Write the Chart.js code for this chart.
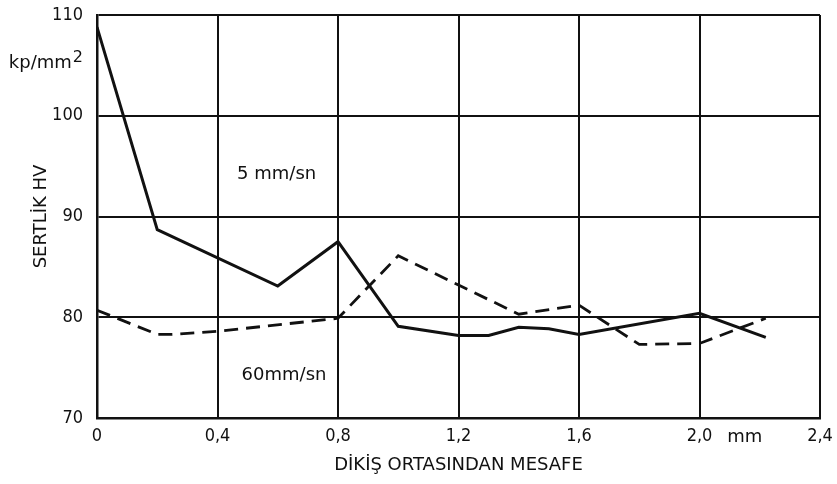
<!DOCTYPE html>
<html>
<head>
<meta charset="utf-8">
<script src="https://cdn.jsdelivr.net/npm/chart.js@4.4.0/dist/chart.umd.min.js"></script>
<style>
  html, body { margin: 0; padding: 0; background: #fff; }
  #box { width: 837px; height: 484px; }
</style>
</head>
<body>
<div id="box"><canvas id="myChart"></canvas></div>
<script>
// Datos
var xTicks = [0, 0.4, 0.8, 1.2, 1.6, 2.0, 2.4];
var yTicks = [70, 80, 90, 100, 110];

// 5 mm/sn (línea continua)
var xSolid = [0, 0.2, 0.6, 0.8, 1.0, 1.2, 1.3, 1.4, 1.5, 1.6, 2.0, 2.22];
var ySolid = [108.8, 88.7, 83.1, 87.5, 79.1, 78.2, 78.2, 79.0, 78.85, 78.3, 80.4, 78.0];

// 60 mm/sn (línea discontinua)
var xDashed = [0, 0.2, 0.25, 0.4, 0.8, 1.0, 1.2, 1.4, 1.6, 1.8, 2.0, 2.22];
var yDashed = [80.7, 78.3, 78.3, 78.6, 79.9, 86.1, 83.2, 80.3, 81.2, 77.3, 77.4, 79.9];

var fuenteNum = "'DejaVu Sans Condensed', 'DejaVu Sans', sans-serif";
var fuente = "'DejaVu Sans', sans-serif";

function puntos(xs, ys) {
    return xs.map(function (x, i) {
        return { x: x, y: ys[i] };
    });
}

function formatoX(v) {
    if (v === 0) return "0";
    return v.toFixed(1).replace(".", ",");
}

// Textos sueltos dentro y alrededor del gráfico
var textosPlugin = {
    id: "textos",
    afterDraw: function (chart) {
        var c = chart.ctx;
        var xs = chart.scales.x;
        var ys = chart.scales.y;
        c.save();
        c.fillStyle = "#111";
        c.textBaseline = "middle";

        // unidad del eje y: kp/mm2
        c.font = "16px " + fuente;
        c.textAlign = "right";
        c.fillText("2", 83, 58);
        var w2 = c.measureText("2").width;
        c.font = "18px " + fuente;
        c.fillText("kp/mm", 83 - w2 - 1, 63);

        c.textAlign = "left";
        c.fillText("5 mm/sn", xs.getPixelForValue(0.465), ys.getPixelForValue(94.2));
        c.fillText("60mm/sn", xs.getPixelForValue(0.48), ys.getPixelForValue(74.2));

        c.textAlign = "center";
        c.fillText("mm", xs.getPixelForValue(2.15), chart.chartArea.bottom + 19);
        c.restore();
    }
};

var ctx = document.getElementById("myChart").getContext("2d");

var myChart = new Chart(ctx, {
    type: "line",
    data: {
        datasets: [
            {
                label: "5 mm/sn",
                data: puntos(xSolid, ySolid),
                borderColor: "#111",
                borderWidth: 3,
                pointRadius: 0,
                tension: 0,
                fill: false
            },
            {
                label: "60 mm/sn",
                data: puntos(xDashed, yDashed),
                borderColor: "#111",
                borderWidth: 2.8,
                borderDash: [14, 8],
                pointRadius: 0,
                tension: 0,
                fill: false
            }
        ]
    },
    options: {
        responsive: true,
        maintainAspectRatio: false,
        animation: false,
        layout: {
            padding: { top: 15, right: 17, left: 0, bottom: 0 }
        },
        plugins: {
            legend: { display: false },
            tooltip: { enabled: false }
        },
        scales: {
            x: {
                type: "linear",
                min: 0,
                max: 2.4,
                afterBuildTicks: function (axis) {
                    axis.ticks = xTicks.map(function (v) { return { value: v }; });
                },
                afterFit: function (axis) {
                    axis.height = 66;
                    axis.paddingLeft = 0;
                    axis.paddingRight = 0;
                },
                grid: { color: "#111", lineWidth: 2, drawTicks: false },
                border: { color: "#111", width: 2.5 },
                ticks: {
                    padding: 8,
                    color: "#111",
                    maxRotation: 0,
                    font: { family: fuenteNum, size: 18 },
                    callback: function (v) { return formatoX(v); }
                },
                title: {
                    display: true,
                    text: "DİKİŞ ORTASINDAN MESAFE",
                    color: "#111",
                    font: { family: fuente, size: 18 },
                    padding: { top: 0, bottom: 8 }
                }
            },
            y: {
                min: 70,
                max: 110,
                afterBuildTicks: function (axis) {
                    axis.ticks = yTicks.map(function (v) { return { value: v }; });
                },
                afterFit: function (axis) {
                    axis.width = 97;
                    axis.paddingTop = 0;
                    axis.paddingBottom = 0;
                },
                grid: { color: "#111", lineWidth: 2, drawTicks: false },
                border: { color: "#111", width: 2.5 },
                ticks: {
                    padding: 14,
                    color: "#111",
                    font: { family: fuenteNum, size: 18 }
                },
                title: {
                    display: true,
                    text: "SERTLİK HV",
                    color: "#111",
                    font: { family: fuente, size: 18 },
                    padding: { top: 31, bottom: 0 }
                }
            }
        }
    },
    plugins: [textosPlugin]
});
</script>
</body>
</html>
